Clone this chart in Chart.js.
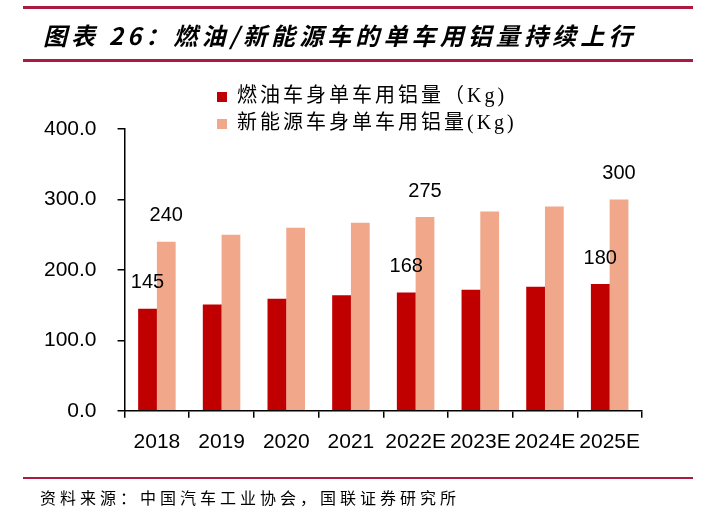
<!DOCTYPE html>
<html>
<head>
<meta charset="utf-8">
<script src="https://cdn.jsdelivr.net/npm/chart.js@4.4.1/dist/chart.umd.min.js"></script>
<style>
  html, body { margin: 0; padding: 0; background: #fff; }
  body { width: 711px; height: 522px; position: relative; overflow: hidden; }
  #wrap { position: absolute; left: 0; top: 0; width: 711px; height: 522px; }
  .rule { position: absolute; left: 23px; width: 670px; background: #AC1A40; }
  #title {
    position: absolute; left: 43px; top: 18px; white-space: nowrap;
    font-family: "Noto Sans CJK SC", sans-serif; font-weight: bold; font-style: italic;
    font-size: 24px; letter-spacing: 4.1px; color: #000; line-height: 34px;
  }
  #source {
    position: absolute; left: 40px; top: 485px; white-space: nowrap;
    font-family: "Noto Sans CJK SC", sans-serif; font-size: 16px; letter-spacing: 4px;
    color: #000; line-height: 24px;
  }
</style>
</head>
<body>
<div id="wrap"><canvas id="c"></canvas></div>
<div class="rule" style="top:6px;height:3px;"></div>
<div id="title">图表 26：燃油/新能源车的单车用铝量持续上行</div>
<div class="rule" style="top:59px;height:3px;"></div>
<div class="rule" style="top:477px;height:2px;"></div>
<div id="source">资料来源：中国汽车工业协会，国联证券研究所</div>
<script>
const categories = ['2018', '2019', '2020', '2021', '2022E', '2023E', '2024E', '2025E'];
const fuelName = '燃油车身单车用铝量（Kg)';
const nevName = '新能源车身单车用铝量(Kg)';
const fuelValues = [145, 151, 159, 164, 168, 172, 176, 180];
const nevValues = [240, 250, 260, 267, 275, 283, 290, 300];
const labeledCategories = ['2018', '2022E', '2025E'];
const yTicks = [0, 100, 200, 300, 400];

const legendTweak = {
  id: 'legendTweak',
  beforeLayout(chart) {
    const lg = chart.legend;
    if (lg && !lg.__wrapped) {
      lg.__wrapped = true;
      ['fit', 'draw'].forEach(m => {
        const orig = lg[m];
        lg[m] = function (...args) {
          const c = this.ctx;
          c.save();
          c.letterSpacing = '3px';
          const r = orig.apply(this, args);
          c.restore();
          return r;
        };
      });
    }
  },
  afterLayout(chart) {
    const lg = chart.legend;
    if (!lg) return;
    const dx = 210 - lg.left;
    const dy = 80 - lg.top;
    lg.left += dx; lg.right += dx;
    lg.top += dy; lg.bottom += dy;
  }
};

const valueLabels = {
  id: 'valueLabels',
  afterDatasetsDraw(chart) {
    const ctx = chart.ctx;
    ctx.save();
    ctx.font = '20px "Liberation Sans", Arial, sans-serif';
    ctx.fillStyle = '#000';
    ctx.textAlign = 'center';
    ctx.textBaseline = 'middle';
    chart.data.datasets.forEach((ds, di) => {
      const meta = chart.getDatasetMeta(di);
      meta.data.forEach((bar, i) => {
        if (!labeledCategories.includes(chart.data.labels[i])) return;
        ctx.fillText(String(ds.data[i]), bar.x, bar.y - 26);
      });
    });
    ctx.restore();
  }
};

new Chart(document.getElementById('c'), {
  type: 'bar',
  data: {
    labels: categories,
    datasets: [
      { label: fuelName, data: fuelValues, backgroundColor: '#C00000', barPercentage: 1.0, categoryPercentage: 0.58 },
      { label: nevName, data: nevValues, backgroundColor: '#F1A78A', barPercentage: 1.0, categoryPercentage: 0.58 }
    ]
  },
  options: {
    responsive: true,
    maintainAspectRatio: false,
    animation: false,
    layout: { padding: { left: 23, right: 69, top: 65, bottom: 55 } },
    plugins: {
      legend: {
        display: true,
        position: 'top',
        align: 'start',
        fullSize: false,
        labels: {
          boxWidth: 10,
          boxHeight: 10,
          padding: 7,
          color: '#000',
          font: { family: '"Liberation Serif", "Noto Sans CJK SC"', size: 20 }
        }
      },
      tooltip: { enabled: false },
      title: { display: false }
    },
    scales: {
      x: {
        grid: { display: true, drawOnChartArea: false, drawTicks: true, tickLength: 7, color: '#000', lineWidth: 1.5, offset: true },
        border: { display: true, color: '#000', width: 1.5 },
        ticks: { color: '#000', padding: 12, font: { family: '"Liberation Sans", Arial, sans-serif', size: 21 }, maxRotation: 0, autoSkip: false }
      },
      y: {
        min: 0,
        max: 400,
        afterBuildTicks(scale) { scale.ticks = yTicks.map(v => ({ value: v })); },
        grid: { display: true, drawOnChartArea: false, drawTicks: true, tickLength: 7, color: '#000', lineWidth: 1.5 },
        border: { display: true, color: '#000', width: 1.5 },
        ticks: { color: '#000', padding: 21, font: { family: '"Liberation Sans", Arial, sans-serif', size: 21 }, callback: v => Number(v).toFixed(1) }
      }
    }
  },
  plugins: [legendTweak, valueLabels]
});
</script>
</body>
</html>
